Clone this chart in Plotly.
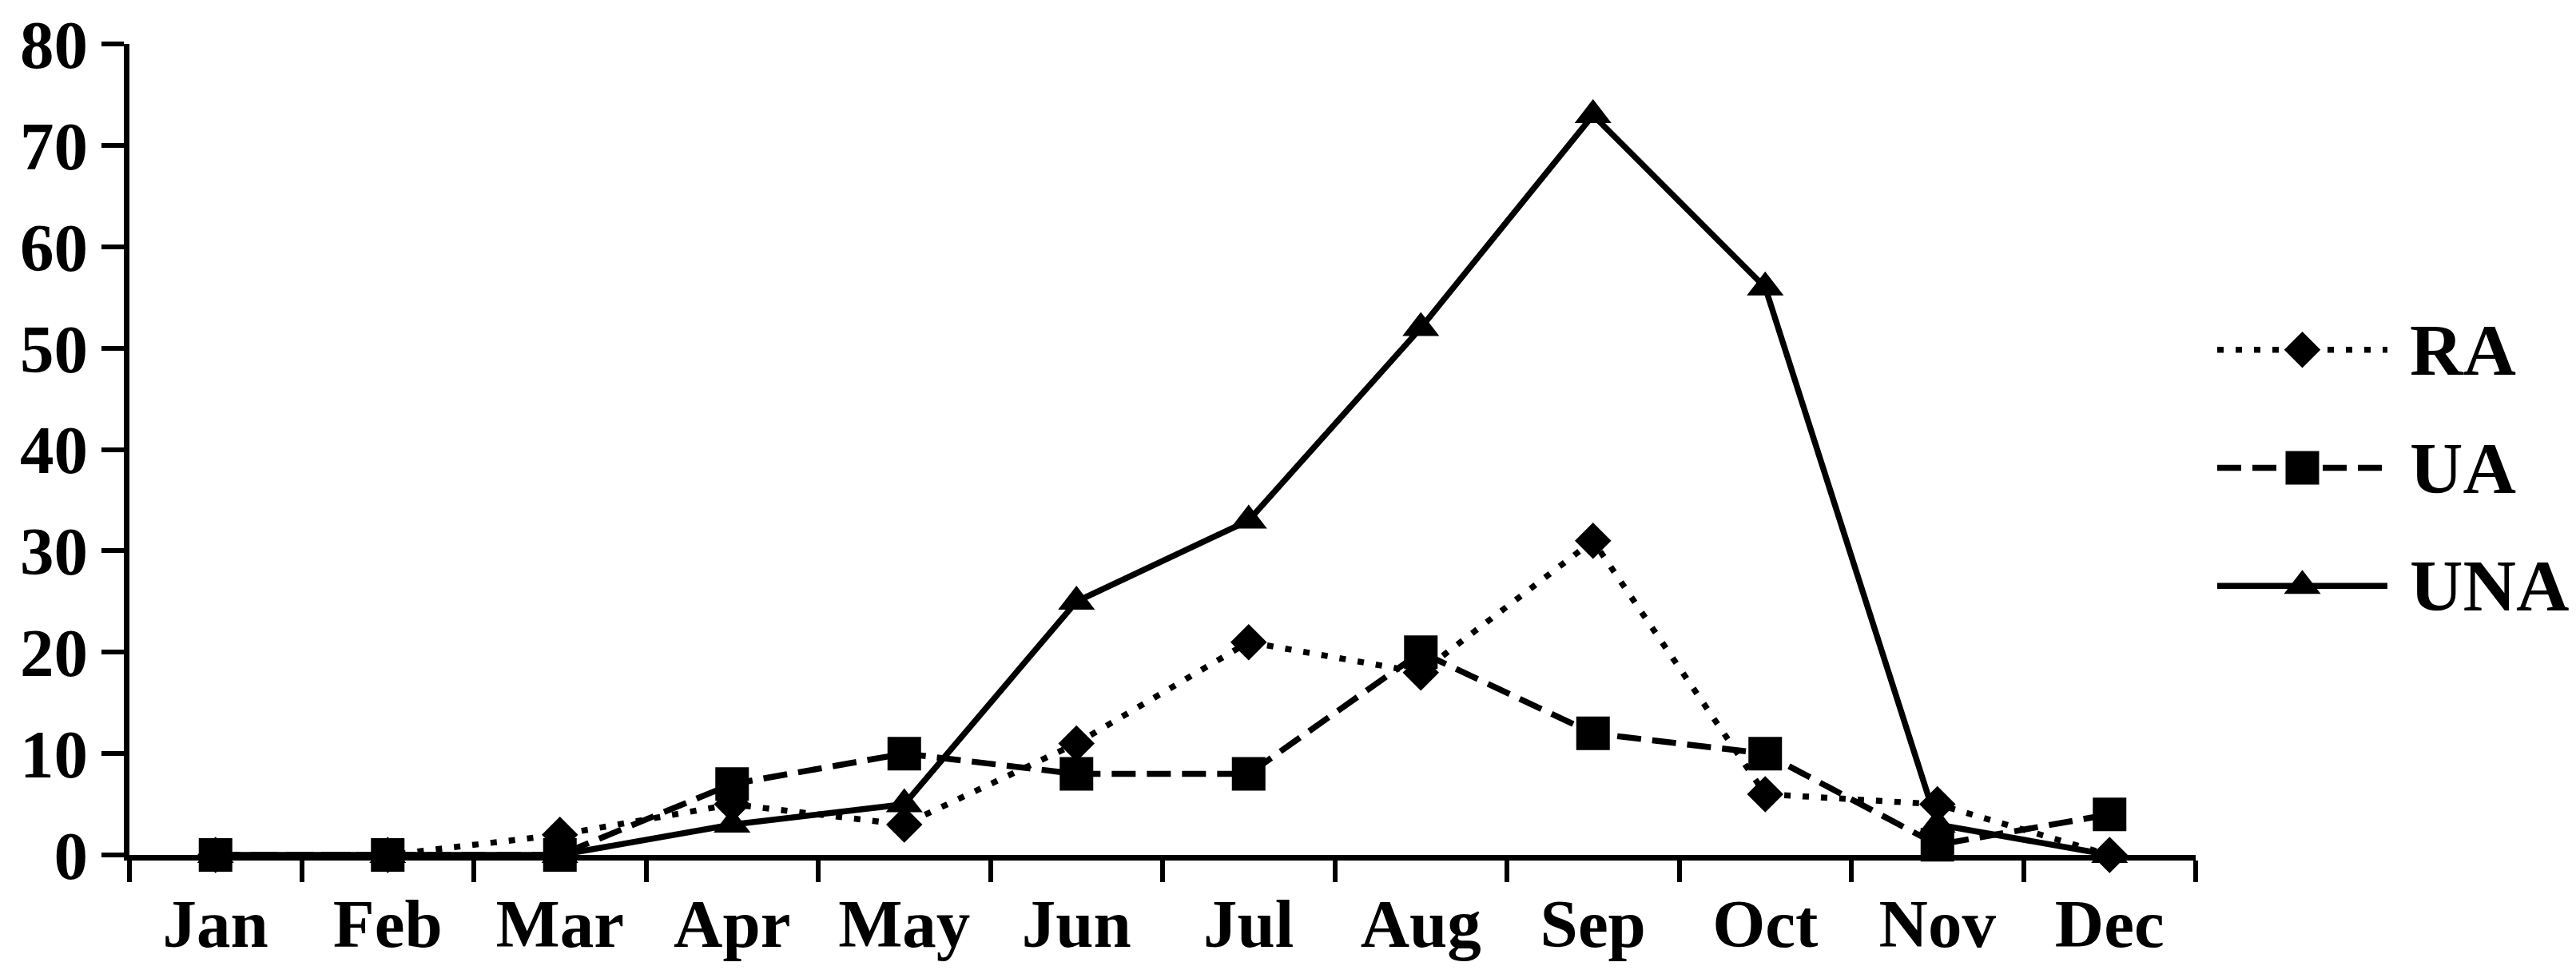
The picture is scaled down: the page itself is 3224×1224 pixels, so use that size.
import plotly.graph_objects as go

# monthly counts
months = ["Jan", "Feb", "Mar", "Apr", "May", "Jun", "Jul", "Aug", "Sep", "Oct", "Nov", "Dec"]
ra = [0, 0, 2, 5, 3, 11, 21, 18, 31, 6, 5, 0]
ua = [0, 0, 0, 7, 10, 8, 8, 20, 12, 10, 1, 4]
una = [0, 0, 0, 3, 5, 25, 33, 52, 73, 56, 3, 0]

series_names = ["RA", "UA", "UNA"]
y_ticks = [0, 10, 20, 30, 40, 50, 60, 70, 80]

FONT = "Liberation Serif"
W, H = 3224, 1224
ML, MR, MT, MB = 154, 20, 47, 162
plot_w = W - ML - MR
plot_h = H - MT - MB
main_right = (2740 - ML) / plot_w

styles = {
    "RA": dict(dash="8px,15px", symbol="diamond", size=35),
    "UA": dict(dash="30px,14px", symbol="square", size=42),
    "UNA": dict(dash="solid", symbol="triangle-up", size=40),
}
values = {"RA": ra, "UA": ua, "UNA": una}

fig = go.Figure()

for name in series_names:
    st = styles[name]
    fig.add_trace(go.Scatter(
        x=months,
        y=values[name],
        mode="lines+markers",
        name=name,
        line=dict(color="black", width=7.5, dash=st["dash"]),
        marker=dict(symbol=st["symbol"], size=st["size"], color="black"),
        cliponaxis=False,
        showlegend=False,
        xaxis="x", yaxis="y",
    ))

# hand-made legend with long line samples (plotly's own legend keys are fixed at 30px)
for i, name in enumerate(series_names):
    st = styles[name]
    fig.add_trace(go.Scatter(
        x=[0, 1], y=[i, i],
        mode="lines",
        line=dict(color="black", width=7.5, dash=st["dash"]),
        cliponaxis=False, showlegend=False, hoverinfo="skip",
        xaxis="x2", yaxis="y2",
    ))
    fig.add_trace(go.Scatter(
        x=[0.5], y=[i],
        mode="markers",
        marker=dict(symbol=st["symbol"], size=st["size"], color="black"),
        cliponaxis=False, showlegend=False, hoverinfo="skip",
        xaxis="x2", yaxis="y2",
    ))
    fig.add_annotation(
        x=1, y=i, xref="x2", yref="y2",
        text=name, showarrow=False,
        xanchor="left", yanchor="middle", xshift=26,
        font=dict(family=FONT, size=92, color="black", weight="bold"),
    )

tickfont = dict(family=FONT, size=85, color="black", weight="bold")

# legend rows sit at roughly 430 / 580 / 725 px from the top of the image
leg_top = (H - MB - 356) / plot_h
leg_bot = (H - MB - 799) / plot_h

fig.update_layout(
    width=W,
    height=H,
    margin=dict(l=ML, r=MR, t=MT, b=MB),
    plot_bgcolor="white",
    paper_bgcolor="white",
    xaxis=dict(
        type="category",
        domain=[0, main_right],
        range=[-0.5, 11.5],
        tickson="boundaries",
        ticks="outside",
        ticklen=27,
        tickwidth=6,
        tickcolor="black",
        showline=True,
        linewidth=7,
        linecolor="black",
        showgrid=False,
        zeroline=False,
        tickfont=tickfont,
        ticklabelstandoff=6,
        automargin=False,
    ),
    yaxis=dict(
        range=[0, 80.02],
        tickvals=y_ticks,
        ticks="outside",
        ticklen=28,
        tickwidth=6,
        tickcolor="black",
        showline=True,
        linewidth=7,
        linecolor="black",
        showgrid=False,
        zeroline=False,
        tickfont=tickfont,
        ticklabelstandoff=0,
        ticklabeloverflow="allow",
        automargin=False,
    ),
    xaxis2=dict(
        domain=[(2767 - ML) / plot_w, (2980 - ML) / plot_w],
        range=[0, 1],
        visible=False,
        anchor="y2",
    ),
    yaxis2=dict(
        domain=[leg_bot, leg_top],
        range=[2.5, -0.5],
        visible=False,
        anchor="x2",
    ),
)

fig.write_html("out.html")
